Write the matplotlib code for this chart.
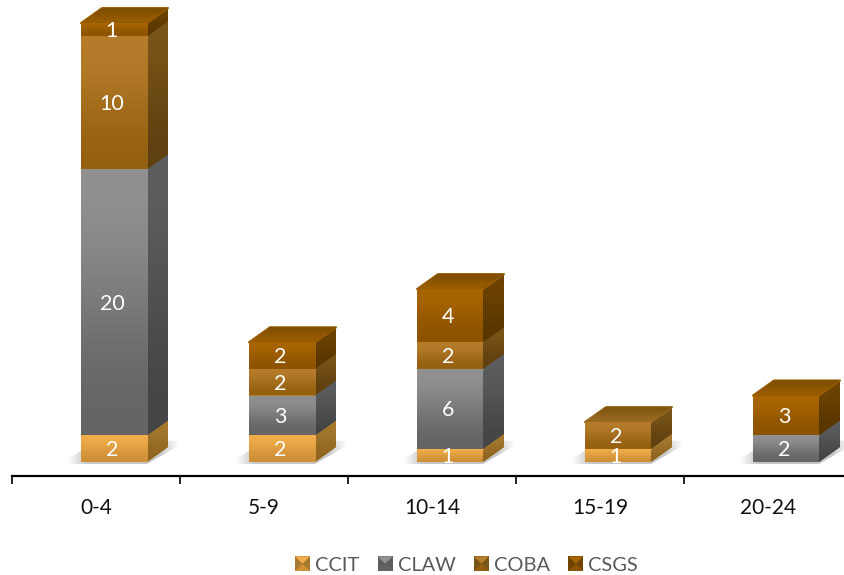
import numpy as np
import matplotlib
matplotlib.use('Agg')
import matplotlib.pyplot as plt
from matplotlib.colors import LinearSegmentedColormap
from matplotlib.legend_handler import HandlerBase
from matplotlib.patches import Patch, Polygon

plt.rcParams['font.family'] = ['Lato', 'DejaVu Sans']

categories = ['0-4', '5-9', '10-14', '15-19', '20-24']
series_names = ['CCIT', 'CLAW', 'COBA', 'CSGS']
ccit = [2, 2, 1, 1, 0]
claw = [20, 3, 6, 0, 2]
coba = [10, 2, 2, 2, 0]
csgs = [1, 2, 4, 0, 3]
series_values = [ccit, claw, coba, csgs]

# front top, front bottom, side top, side bottom, top face back, top face front
styles = {
    'CCIT': ('#F2AE4A', '#CE8F37', '#A87A30', '#8E6420', '#C08A38', '#D89A40'),
    'CLAW': ('#929292', '#636363', '#5C5E60', '#444444', '#6A6A6A', '#808080'),
    'COBA': ('#B77D2C', '#93600F', '#7A5518', '#5E3F10', '#7E5510', '#9A6A20'),
    'CSGS': ('#A96500', '#8C5300', '#6E4400', '#583600', '#7E4E00', '#9A5D00'),
}

BAR_W = 66 / 168
BAR_SHIFT = 18 / 168
DEPTH_X = 21 / 168
DEPTH_Y = 15 / 13.3
AXIS_Y = -14 / 13.3

fig = plt.figure(figsize=(8.45, 5.75), dpi=100)
ax = fig.add_axes([0, 0, 1, 1])
xlim = (-12 / 168, 833 / 168)
ylim = (-113 / 13.3, 462 / 13.3)


def fade(patch, c1, c2, z):
    # gradient image clipped to the shape
    cmap = LinearSegmentedColormap.from_list('f', [c1, c2])
    box = patch.get_path().transformed(patch.get_patch_transform()).get_extents()
    im = ax.imshow([[0], [1]], cmap=cmap, aspect='auto', interpolation='bicubic', zorder=z,
                   extent=(box.x0, box.x1, box.y0, box.y1), origin='upper')
    im.set_clip_path(patch)
    return im


x = np.arange(len(categories)) + 0.5 + BAR_SHIFT
totals = np.sum(series_values, axis=0)

# soft shadow on the floor
shadow_cmap = LinearSegmentedColormap.from_list('s', ['#FFFFFF', '#C6C6C6'])
for xc in x:
    x0, x1 = xc - BAR_W / 2, xc + BAR_W / 2
    sh = Polygon([(x0 - 0.13, -0.15), (x1, -0.15), (x1 + 0.24, 1.6), (x0 + 0.1, 1.6)],
                 closed=True, fc='none', ec='none')
    ax.add_patch(sh)
    im = ax.imshow([[0, 1, 1, 1, 1, 1, 0]], cmap=shadow_cmap, aspect='auto', interpolation='bilinear',
                   extent=(x0 - 0.13, x1 + 0.24, -0.15, 1.6), zorder=1)
    im.set_clip_path(sh)

bottom = np.zeros(len(categories))
z = 2
for name, vals in zip(series_names, series_values):
    vals = np.array(vals)
    front1, front2, side1, side2, top1, top2 = styles[name]
    bars = ax.bar(x, vals, BAR_W, bottom=bottom, color=front1, zorder=z + 1)
    labels = [str(v) if v else '' for v in vals]
    texts = ax.bar_label(bars, labels=labels, label_type='center', color='white', fontsize=15.5,
                         padding=-1, zorder=30)
    for t in texts:
        t.xyann = (-1.5, t.xyann[1])
    for rect, v, b, total in zip(bars, vals, bottom, totals):
        if v == 0:
            continue
        rx = rect.get_x() + BAR_W
        lx = rect.get_x()
        fade(rect, front1, front2, z + 2)
        side = Polygon([(rx, b), (rx + DEPTH_X, b + DEPTH_Y), (rx + DEPTH_X, b + v + DEPTH_Y), (rx, b + v)],
                       closed=True, fc=side2, ec='none', zorder=z)
        ax.add_patch(side)
        fade(side, side1, side2, z)
        # thin light line where segments meet
        ax.plot([lx, rx], [b + v, b + v], color=front1, lw=0.8, alpha=0.8, zorder=z + 3)
        if b + v == total:
            top = Polygon([(lx, b + v), (rx, b + v), (rx + DEPTH_X, b + v + DEPTH_Y),
                           (lx + DEPTH_X, b + v + DEPTH_Y)],
                          closed=True, fc=top2, ec=top2, lw=1.5, joinstyle='round', zorder=z + 1)
            ax.add_patch(top)
            fade(top, top1, top2, z + 1)
    bottom = bottom + vals
    z += 4


class PyramidSwatch(HandlerBase):
    def create_artists(self, legend, orig, xd, yd, w, h, fontsize, trans):
        name = orig.get_label()
        light, mid = styles[name][0], styles[name][1]
        base = styles[name][2]
        l, r, b, t = -xd, w - xd, -yd, h - yd
        cx, cy = (l + r) / 2, (b + t) / 2
        pieces = [
            ([(l, b), (r, b), (r, t), (l, t)], base),
            ([(l, t), (r, t), (cx, cy)], light),
            ([(l, b), (r, b), (cx, cy)], mid),
        ]
        return [Polygon(p, closed=True, fc=c, ec='none', transform=trans) for p, c in pieces]


handles = [Patch(facecolor=styles[n][0], label=n) for n in series_names]
leg = ax.legend(handles=handles, ncol=4, loc='center', bbox_to_anchor=(466.5 / 845, 1 - 565 / 575),
                frameon=False, fontsize=14.4, labelcolor='#595959', handlelength=0.75, handleheight=0.75,
                handletextpad=0.25, columnspacing=0.92, borderpad=0,
                handler_map={Patch: PyramidSwatch()})

for s in ['left', 'right', 'top']:
    ax.spines[s].set_visible(False)
ax.spines['bottom'].set_position(('data', AXIS_Y))
ax.spines['bottom'].set_bounds(0, xlim[1])
ax.spines['bottom'].set_linewidth(1.6)
ax.set_yticks([])
ax.set_xticks(np.arange(len(categories) + 1))
ax.set_xticklabels([])
ax.tick_params(axis='x', which='major', length=6, width=1.2, direction='out')
ax.set_xticks(np.arange(len(categories)) + 0.5, categories, minor=True)
ax.tick_params(axis='x', which='minor', length=0, pad=16, labelsize=15, labelcolor='#111111')
ax.set_xlim(xlim)
ax.set_ylim(ylim)
ax.patch.set_alpha(0)

fig.savefig('out.png', dpi=100)
